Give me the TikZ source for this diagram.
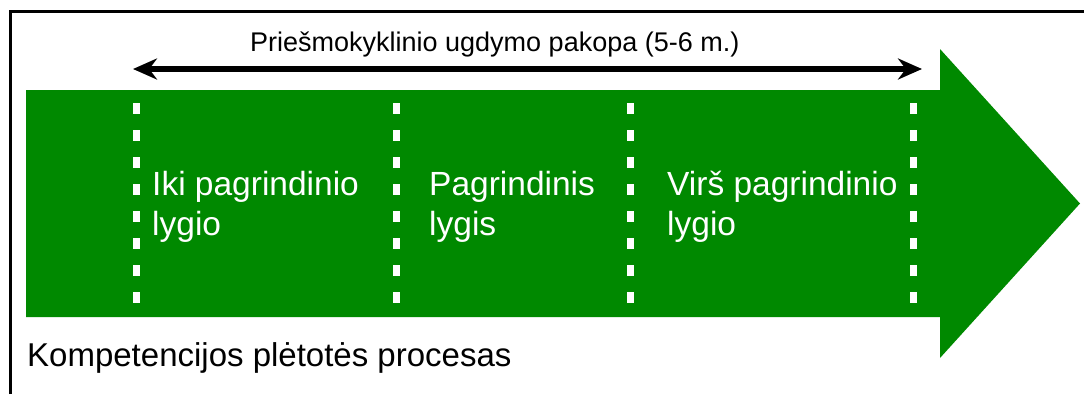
\documentclass[tikz,border=0pt]{standalone}
\usepackage{fontspec}
\setmainfont{Liberation Sans}
\usepackage{tikz}
\definecolor{stagegreen}{RGB}{0,137,0}
\usetikzlibrary{arrows.meta, positioning}

\begin{document}
\begin{tikzpicture}[x=1pt, y=-1pt,
    level/.style={anchor=west, inner sep=0pt, align=left, text=white, font=\fontsize{33.5}{40}\selectfont},
    caption/.style={anchor=base west, inner sep=0pt, font=\fontsize{33}{38}\selectfont},
    divider/.style={draw=white, line width=7pt, dash pattern=on 11pt off 16pt},
    span/.style={draw=black, line width=5.5pt, {Stealth[length=24pt,width=21pt]}-{Stealth[length=24pt,width=21pt]}}]
     \useasboundingbox (0,0) rectangle (1084,394);
     %frame
     \draw[line width=3pt] (10,394) -- (10,11) -- (1084,11);
     %big arrow
     \fill[stagegreen] (26,90) -- (940,90) -- (940,49) -- (1080,203.5) -- (940,358) -- (940,317) -- (26,317) -- cycle;
     %dividers
     \coordinate (d1t) at (136,103);  \coordinate (d1b) at (136,305);
     \coordinate (d2t) at (396,103);  \coordinate (d2b) at (396,305);
     \coordinate (d3t) at (630,103);  \coordinate (d3b) at (630,305);
     \coordinate (d4t) at (913,103);  \coordinate (d4b) at (913,305);
     \path[divider] (d1t) -- (d1b);
     \path[divider] (d2t) -- (d2b);
     \path[divider] (d3t) -- (d3b);
     \path[divider] (d4t) -- (d4b);
     %levels
     \node[level] (iki)  at (152,207) {Iki pagrindinio\\lygio};
     \node[level] (pagr) at (429,207) {Pagrindinis\\lygis};
     \node[level] (virs) at (667,207) {Virš pagrindinio\\lygio};
     %stage span
     \node[anchor=base west, inner sep=0pt, font=\fontsize{27}{32}\selectfont] (pakopa) at (250,51) {Priešmokyklinio ugdymo pakopa (5-6 m.)};
     \coordinate (spanl) at (133,69);
     \coordinate (spanr) at (922,69);
     \path[span] (spanl) -- (spanr);
     %process
     \node[caption] (procesas) at (27,366) {Kompetencijos plėtotės procesas};
\end{tikzpicture}
\end{document}
